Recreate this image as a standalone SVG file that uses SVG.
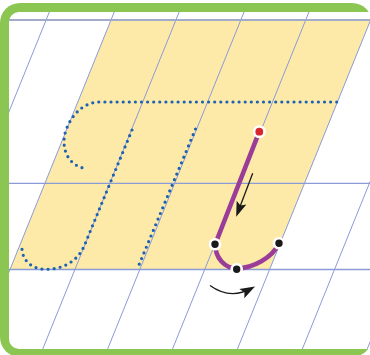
<svg xmlns="http://www.w3.org/2000/svg" width="370" height="355" viewBox="0 0 370 355">
  <style>
    .slant { stroke: #8a9bd8; stroke-width: 1; fill: none; }
    .hline { stroke: #8a9bd8; stroke-width: 1.3; fill: none; }
    .dots { stroke: #1c62b3; stroke-width: 3.2; stroke-linecap: round; stroke-dasharray: 0 6.1; fill: none; }
    .stroke { stroke: #9b3d98; stroke-width: 4.6; stroke-linecap: round; stroke-linejoin: round; fill: none; }
    .pt { fill: #1a1a1a; stroke: #ffffff; stroke-width: 2.6; }
    .arrow { stroke: #1a1a1a; stroke-width: 1.3; fill: none; }
  </style>
  <defs>
    <clipPath id="inner">
      <rect x="9" y="12" width="363" height="337"/>
    </clipPath>
    <marker id="head" markerUnits="userSpaceOnUse" markerWidth="20" markerHeight="20" refX="0" refY="0" orient="auto" overflow="visible">
      <path d="M4,0 L-11,-5.2 L-8,0 L-11,5.2 Z" fill="#1a1a1a"/>
    </marker>
  </defs>

  <g id="frame">
    <path d="M20,3 H352 A20,20 0 0 1 372,23 V337 A20,20 0 0 1 352,357 H20 A20,20 0 0 1 0,337 V23 A20,20 0 0 1 20,3 Z" fill="#8cc652"/>
    <path d="M19,12 H372 V349 H19 A10,10 0 0 1 9,339 V22 A10,10 0 0 1 19,12 Z" fill="#ffffff"/>
  </g>

  <g id="grid" clip-path="url(#inner)">
    <polygon id="band" points="111,20 370.6,20 269.6,269.5 10,269.5" fill="#feeaa8"/>
    <g id="slants">
      <line class="slant" x1="54.2" y1="0" x2="-89.5" y2="355"/>
      <line class="slant" x1="119.1" y1="0" x2="-24.6" y2="355"/>
      <line class="slant" x1="184" y1="0" x2="40.3" y2="355"/>
      <line class="slant" x1="248.9" y1="0" x2="105.2" y2="355"/>
      <line class="slant" x1="313.8" y1="0" x2="170.1" y2="355"/>
      <line class="slant" x1="378.7" y1="0" x2="235" y2="355"/>
      <line class="slant" x1="443.6" y1="0" x2="299.9" y2="355"/>
      <line class="slant" x1="508.5" y1="0" x2="364.8" y2="355"/>
    </g>
    <line x1="9" y1="20" x2="372" y2="20" stroke="#a2abc9" stroke-width="2.2"/>
    <line class="hline" x1="9" y1="183.3" x2="372" y2="183.3"/>
    <line class="hline" x1="9" y1="269.5" x2="372" y2="269.5"/>
  </g>

  <g id="guides">
    <path class="dots" d="M336.7,102 H100 C84,102 72,114 66,130 C60,148 68,166 86,168.5"/>
    <path class="dots" d="M132,130 L85,244 C78,262 62,269.3 46,269.3 C30,269.3 20,258 22.3,244"/>
    <path class="dots" d="M195.5,129 L138.5,266"/>
  </g>

  <g id="connectors">
    <path class="stroke" d="M259.3,131.7 L215.3,244 C215,258 225,268.5 237,268.5 C253,268 272,258 279,243.5"/>
    <path class="arrow" d="M252.7,173.3 L237.6,213" marker-end="url(#head)"/>
    <path class="arrow" d="M210,285.5 Q230,300 251.5,288.4" marker-end="url(#head)"/>
  </g>

  <g id="start-point">
    <circle cx="259.3" cy="131.7" r="5.2" fill="#d7262e" stroke="#ffffff" stroke-width="2.6"/>
  </g>
  <g id="point-a">
    <circle class="pt" cx="215" cy="244.3" r="5"/>
  </g>
  <g id="point-b">
    <circle class="pt" cx="236.7" cy="269.3" r="5"/>
  </g>
  <g id="point-c">
    <circle class="pt" cx="279" cy="243.3" r="5"/>
  </g>
</svg>
